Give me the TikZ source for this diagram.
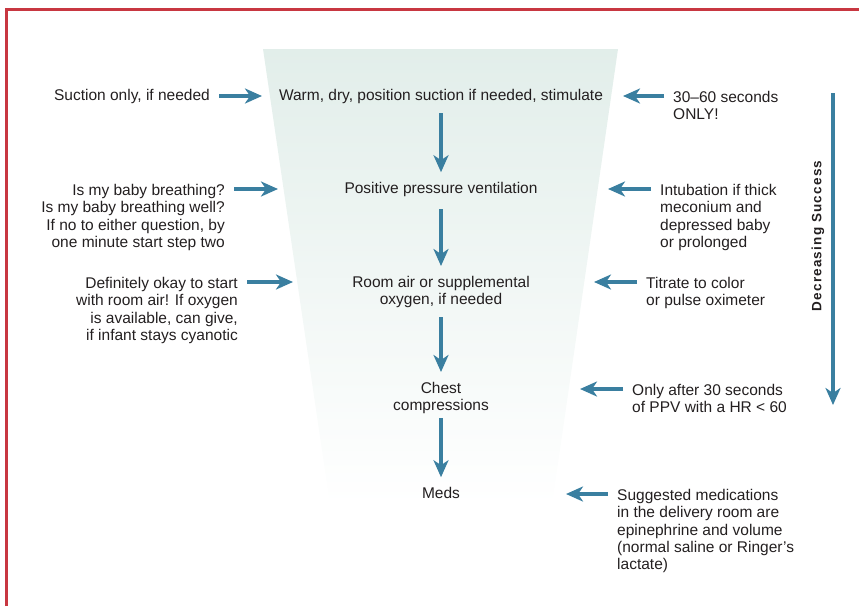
\documentclass[tikz,border=0pt]{standalone}
\usepackage{fontspec}
\setmainfont{Liberation Sans}
\usetikzlibrary{positioning,arrows.meta}
\definecolor{flowblue}{RGB}{58,127,160}
\definecolor{framered}{RGB}{200,55,65}
\definecolor{funnelgreen}{RGB}{226,238,234}
\definecolor{textgray}{RGB}{35,31,32}
\tikzset{
  every node/.style={font=\fontsize{15.5}{17.3}\selectfont, text=textgray, inner sep=0pt},
  sidearrow/.style={draw=flowblue, line width=3.6pt, shorten <=9pt,
    -{Stealth[length=17pt,width=15pt,inset=5pt,fill=flowblue]}},
  downarrow/.style={sidearrow, shorten <=9pt, shorten >=10pt}
}

\begin{document}
\begin{tikzpicture}[x=1pt,y=-1pt]
\useasboundingbox (0,0) rectangle (859,606);
% frame and funnel
\draw[framered, line width=2.6pt] (6.5,606) -- (6.5,9.5) -- (859,9.5);
\shade[top color=funnelgreen, bottom color=white] (263,49) -- (618,49) -- (552,505) -- (330,505) -- cycle;

% steps
\node[anchor=mid] (warm) at (441,98) {Warm, dry, position suction if needed, stimulate};
\node[anchor=mid] (ppv) at (441,191) {Positive pressure ventilation};
\node[anchor=north, align=center] (air) at (441,276) {Room air or supplemental\\oxygen, if needed};
\node[anchor=north, align=center] (chest) at (441,382) {Chest\\compressions};
\node[anchor=mid] (meds) at (441,496) {Meds};

\draw[downarrow] (warm) -- (ppv);
\draw[downarrow, shorten <=12pt] (ppv) -- (air);
\draw[downarrow] (air) -- (chest);
\draw[downarrow, shorten <=4pt] (chest) -- (meds);

% left notes
\node[anchor=mid east] (suction) at (210,98) {Suction only, if needed};
\node[anchor=north east, align=right] (breathing) at (225,184) {Is my baby breathing?\\Is my baby breathing well?\\If no to either question, by\\one minute start step two};
\node[anchor=north east, align=right] (roomair) at (238,277) {Definitely okay to start\\with room air! If oxygen\\is available, can give,\\if infant stays cyanotic};
\coordinate (suctiontip) at (262,96);
\coordinate (breathingtip) at (278,189);
\coordinate (roomairtip) at (293,282);
\draw[sidearrow] ([yshift=2pt]suction.mid east) -- (suctiontip);
\draw[sidearrow] ([yshift=-5pt]breathing.north east) -- (breathingtip);
\draw[sidearrow] ([yshift=-5pt]roomair.north east) -- (roomairtip);

% right notes
\node[anchor=north west, align=left] (seconds) at (673,91) {30–60 seconds\\ONLY!};
\node[anchor=north west, align=left] (intubation) at (660,184) {Intubation if thick\\meconium and\\depressed baby\\or prolonged};
\node[anchor=north west, align=left] (titrate) at (646,277) {Titrate to color\\or pulse oximeter};
\node[anchor=north west, align=left] (ppvonly) at (632,384) {Only after 30 seconds\\of PPV with a HR < 60};
\node[anchor=north west, align=left] (medsnote) at (617,489) {Suggested medications\\in the delivery room are\\epinephrine and volume\\(normal saline or Ringer’s\\lactate)};
\coordinate (secondstip) at (623,96);
\coordinate (intubationtip) at (608,189);
\coordinate (titratetip) at (594,282);
\coordinate (ppvonlytip) at (580,389);
\coordinate (medsnotetip) at (566,494);
\draw[sidearrow] ([yshift=-5pt]seconds.north west) -- (secondstip);
\draw[sidearrow] ([yshift=-5pt]intubation.north west) -- (intubationtip);
\draw[sidearrow] ([yshift=-5pt]titrate.north west) -- (titratetip);
\draw[sidearrow] ([yshift=-5pt]ppvonly.north west) -- (ppvonlytip);
\draw[sidearrow] ([yshift=-5pt]medsnote.north west) -- (medsnotetip);

% success scale
\coordinate (scaletop) at (833,93);
\coordinate (scalebottom) at (833,405);
\draw[sidearrow, shorten <=0pt] (scaletop) -- (scalebottom);
\node[rotate=90, font=\fontsize{13.5}{15}\selectfont\bfseries\addfontfeature{LetterSpace=9}] (success) at (818,236) {Decreasing Success};
\end{tikzpicture}
\end{document}
